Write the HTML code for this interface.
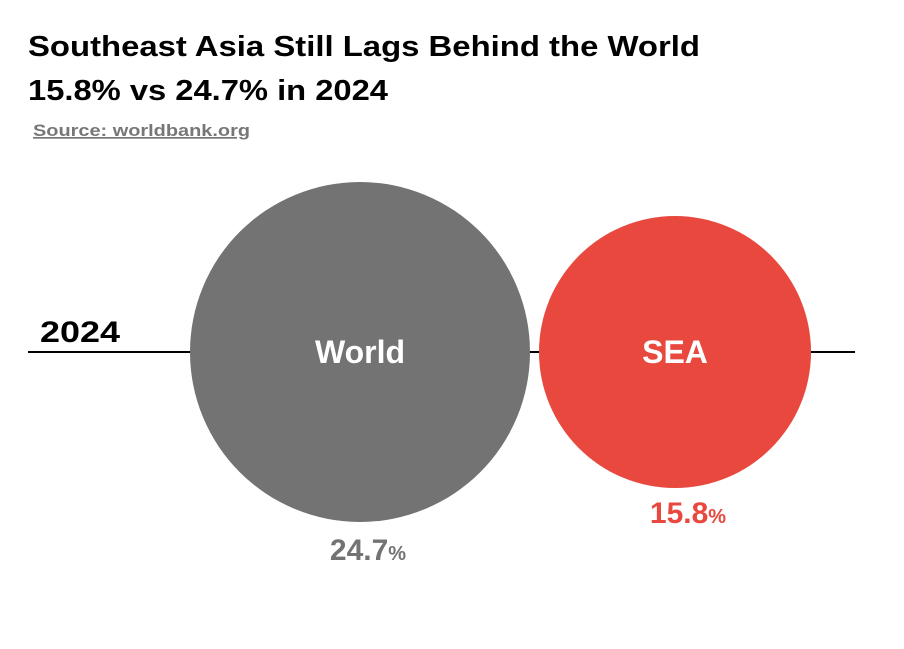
<!DOCTYPE html>
<html><head><meta charset="utf-8"><style>
body{margin:0;background:#fff;width:904px;height:644px;overflow:hidden;font-family:"Liberation Sans",sans-serif;}
</style></head><body>
<svg width="904" height="644" xmlns="http://www.w3.org/2000/svg" font-family="Liberation Sans, sans-serif">
<text x="28" y="56" font-size="29" font-weight="bold" fill="#000" textLength="672" lengthAdjust="spacingAndGlyphs">Southeast Asia Still Lags Behind the World</text>
<text x="28" y="100" font-size="29" font-weight="bold" fill="#000" textLength="360" lengthAdjust="spacingAndGlyphs">15.8% vs 24.7% in 2024</text>
<text x="33" y="136" font-size="17" font-weight="bold" fill="#777" text-decoration="underline" textLength="217" lengthAdjust="spacingAndGlyphs">Source: worldbank.org</text>
<line x1="28" y1="352" x2="855" y2="352" stroke="#000" stroke-width="2"/>
<text x="40" y="342" font-size="30" font-weight="bold" fill="#000" textLength="80" lengthAdjust="spacingAndGlyphs">2024</text>
<circle cx="360" cy="352" r="170" fill="#737373"/>
<circle cx="675" cy="352" r="136" fill="#E8483E"/>
<text x="360" y="363" font-size="32" font-weight="bold" fill="#fff" text-anchor="middle">World</text>
<text x="675" y="363" font-size="32" font-weight="bold" fill="#fff" text-anchor="middle">SEA</text>
<text x="368" y="560" font-size="30" font-weight="bold" fill="#737373" text-anchor="middle">24.7<tspan font-size="20">%</tspan></text>
<text x="688" y="523" font-size="30" font-weight="bold" fill="#E8483E" text-anchor="middle">15.8<tspan font-size="20">%</tspan></text>
</svg>
</body></html>
